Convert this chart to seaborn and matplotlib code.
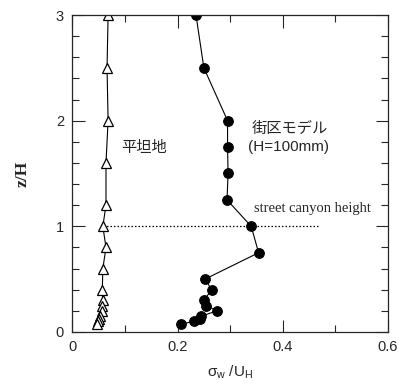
import numpy as np
import pandas as pd
import seaborn as sns
import matplotlib
matplotlib.use("Agg")
import matplotlib.pyplot as plt
from matplotlib.ticker import MultipleLocator

# Vertical velocity fluctuation profiles (sigma_w / U_H against z/H)
flat_z = [3.0, 2.5, 2.0, 1.6, 1.2, 1.0, 0.8, 0.6, 0.4, 0.3, 0.25, 0.2, 0.15, 0.125, 0.1, 0.075]
flat_sw = [0.068, 0.066, 0.068, 0.064, 0.064, 0.058, 0.064, 0.058, 0.057, 0.058, 0.056,
           0.057, 0.053, 0.051, 0.049, 0.047]

block_z = [3.0, 2.5, 2.0, 1.75, 1.5, 1.25, 1.0, 0.75, 0.5, 0.4, 0.3, 0.25, 0.2,
           0.15, 0.125, 0.1, 0.075]
block_sw = [0.235, 0.250, 0.295, 0.295, 0.296, 0.294, 0.340, 0.354, 0.252, 0.265,
            0.250, 0.254, 0.275, 0.245, 0.242, 0.232, 0.206]

canyon_height = 1.0
canyon_line_x = [0.058, 0.467]

x_ticks = [0, 0.2, 0.4, 0.6]
x_ticklabels = ["0", "0.2", "0.4", "0.6"]
y_ticks = [0, 1, 2, 3]

flat_df = pd.DataFrame({"sw": flat_sw, "z": flat_z})
block_df = pd.DataFrame({"sw": block_sw, "z": block_z})

sns.set_style("ticks")
plt.rcParams["font.family"] = ["Liberation Sans", "Noto Sans CJK JP"]
plt.rcParams["mathtext.fontset"] = "custom"
plt.rcParams["mathtext.rm"] = "Liberation Sans"
plt.rcParams["mathtext.it"] = "Liberation Sans:italic"

fig = plt.figure(figsize=(3.98, 3.83), dpi=100)
ax = fig.add_axes([0.1817, 0.1332, 0.975 - 0.1817, 0.9608 - 0.1332])

sns.lineplot(data=flat_df, x="sw", y="z", sort=False, estimator=None, ax=ax,
             color="black", lw=0.8, marker="^", markersize=6.5,
             markerfacecolor="white", markeredgecolor="black", markeredgewidth=0.9)
sns.lineplot(data=block_df, x="sw", y="z", sort=False, estimator=None, ax=ax,
             color="black", lw=0.8, marker="o", markersize=7,
             markerfacecolor="black", markeredgecolor="black")

ax.plot(canyon_line_x, [canyon_height, canyon_height], color="black",
        lw=0.9, linestyle=(0, (1.2, 1.6)), zorder=1)

ax.set_xlim(0, 0.6)
ax.set_ylim(0, 3)
ax.set_xticks(x_ticks)
ax.set_xticklabels(x_ticklabels)
ax.set_yticks(y_ticks)
ax.xaxis.set_minor_locator(MultipleLocator(0.1))
ax.yaxis.set_minor_locator(MultipleLocator(0.2))
ax.tick_params(which="both", direction="in", top=True, right=True,
               labelsize=10.5, width=0.8, pad=6)
ax.tick_params(which="major", length=9)
ax.tick_params(which="minor", length=5)
for s in ax.spines.values():
    s.set_linewidth(0.9)

ax.set_xlabel("σ$_\\mathrm{w}$ /U$_\\mathrm{H}$", fontsize=11, labelpad=7)
ax.set_ylabel("z/H", fontsize=12.5, family="Liberation Serif", fontweight="bold",
              labelpad=18)

ax.text(0.093, 1.75, "平坦地", fontsize=11, va="center", ha="left",
        family=["Noto Sans CJK JP"])
ax.text(0.340, 1.93, "街区モデル", fontsize=11, va="center", ha="left",
        family=["Noto Sans CJK JP"])
ax.text(0.333, 1.75, "(H=100mm)", fontsize=11, va="center", ha="left")
ax.text(0.345, 1.17, "street canyon height", fontsize=10.5, va="center", ha="left",
        family="Liberation Serif")

fig.savefig("out.png", dpi=100)
